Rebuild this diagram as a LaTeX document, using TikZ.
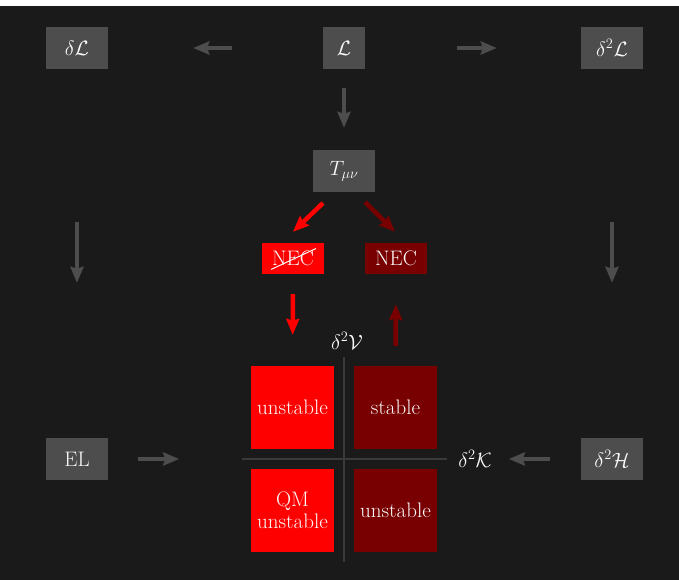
\documentclass[tikz,border=0pt]{standalone}
\usetikzlibrary{arrows.meta,calc}
\definecolor{bgdark}{HTML}{1A1A1A}
\definecolor{boxgray}{HTML}{4D4D4D}
\definecolor{axisgray}{HTML}{3A3A3A}
\definecolor{redA}{HTML}{FF0000}
\definecolor{redB}{HTML}{780000}
\definecolor{txt}{HTML}{FAFAFA}
\tikzset{
  lbl/.style={text=txt, font=\fontsize{21}{22}\selectfont, align=center, inner sep=0pt},
  gbox/.style={lbl, fill=boxgray, minimum width=62pt, minimum height=42pt},
  sqbox/.style={gbox, minimum width=42pt},
  necbox/.style={lbl, minimum width=62pt, minimum height=31pt},
  quad/.style={lbl, minimum width=83pt, minimum height=83pt},
  garr/.style={draw=boxgray, line width=4.5pt, -{Stealth[length=16pt,width=13pt,inset=2pt]}},
  rarr/.style={draw=redA, line width=4.5pt, -{Stealth[length=16pt,width=13pt,inset=2pt]}},
  darr/.style={draw=redB, line width=4.5pt, -{Stealth[length=16pt,width=13pt,inset=2pt]}},
  axisline/.style={draw=axisgray, line width=2pt},
}
\begin{document}
\begin{tikzpicture}[x=1pt,y=-1pt]
  % canvas
  \fill[white] (0,0) rectangle (679,580);
  \fill[bgdark] (0,6) rectangle (679,580);
  \useasboundingbox (0,0) rectangle (679,580);

  % top row
  \node[gbox] (dL) at (77,48) {$\delta\mathcal{L}$};
  \node[sqbox] (L) at (344,48) {$\mathcal{L}$};
  \node[gbox] (ddL) at (612,48) {$\delta^2\mathcal{L}$};
  \node[gbox] (T) at (344,171) {$T_{\mu\nu}$};

  % energy conditions
  \node[necbox, fill=redA] (necX) at (293,258.5) {NEC};
  \node[necbox, fill=redB] (necY) at (396,258.5) {NEC};
  \draw[txt, line width=1pt] ($(necX.center)+(-22,11)$) -- ($(necX.center)+(23,-10)$);

  % side boxes
  \node[gbox] (EL) at (77,459) {EL};
  \node[gbox] (ddH) at (612,459) {$\delta^2\mathcal{H}$};

  % stability quadrants
  \node[quad, fill=redA] (q1) at (292.5,407.5) {unstable};
  \node[quad, fill=redB] (q2) at (395.5,407.5) {stable};
  \node[quad, fill=redA] (q3) at (292.5,510.5) {QM\\unstable};
  \node[quad, fill=redB] (q4) at (395.5,510.5) {unstable};

  % axes
  \coordinate (vtop) at (344,357);
  \coordinate (vbot) at (344,562);
  \coordinate (hleft) at (242,459);
  \coordinate (hright) at (447,459);
  \draw[axisline] (vtop) -- (vbot);
  \draw[axisline] (hleft) -- (hright);
  \node[lbl] (ddV) at (347,341) {$\delta^2\mathcal{V}$};
  \node[lbl] (ddK) at (475,459) {$\delta^2\mathcal{K}$};

  % gray connectors
  \draw[garr, shorten <=91pt, shorten >=85pt] (L) -- (dL);
  \draw[garr, shorten <=92pt, shorten >=84pt] (L) -- (ddL);
  \draw[garr, shorten <=19pt, shorten >=22pt] (L) -- (T);
  \draw[garr, shorten <=153pt, shorten >=155pt] (dL) -- (EL);
  \draw[garr, shorten <=153pt, shorten >=155pt] (ddL) -- (ddH);
  \draw[garr, shorten <=30pt, shorten >=0pt] (EL.east) -- ($(EL.east)+(71,0)$);
  \draw[garr, shorten <=31pt, shorten >=0pt] (ddH.west) -- ($(ddH.west)+(-72,0)$);

  % red connectors
  \coordinate (ta) at (323,203);
  \coordinate (tb) at (365,202);
  \draw[rarr] (ta) -- ($(necX.north)+(0,-11)$);
  \draw[darr] (tb) -- ($(necY.north)+(-1,-11)$);
  \draw[rarr, shorten <=20pt, shorten >=31pt] (necX.south) -- (q1.north);
  \draw[darr, shorten <=20pt, shorten >=30pt] (q2.north) -- (necY.south);
\end{tikzpicture}
\end{document}
